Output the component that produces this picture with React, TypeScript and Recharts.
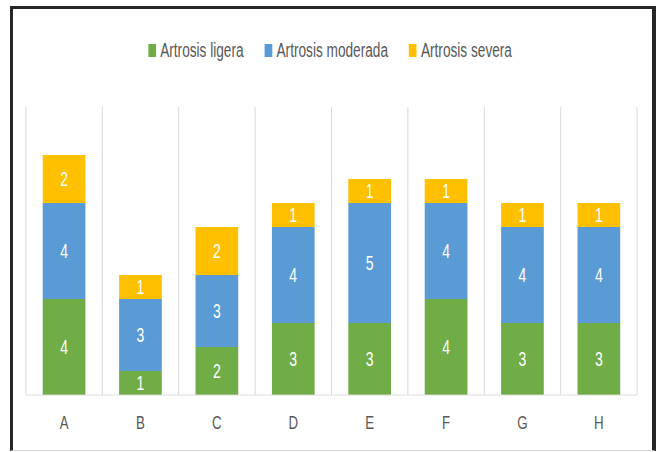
import { BarChart, Bar, XAxis, YAxis, CartesianGrid, Legend, LabelList } from 'recharts'

const CATEGORIAS = ['A', 'B', 'C', 'D', 'E', 'F', 'G', 'H']
const LIGERA = [4, 1, 2, 3, 3, 4, 3, 3]
const MODERADA = [4, 3, 3, 4, 5, 4, 4, 4]
const SEVERA = [2, 1, 2, 1, 1, 1, 1, 1]

const SERIES = [
  { key: 'ligera', nombre: 'Artrosis ligera', color: '#70ad47' },
  { key: 'moderada', nombre: 'Artrosis moderada', color: '#5b9bd5' },
  { key: 'severa', nombre: 'Artrosis severa', color: '#ffc000' },
]

// el original está comprimido en horizontal: se dibuja ancho y se encoge
const ESCALA_X = 0.7
const ANCHO = 656 / ESCALA_X
const ALTO = 452

const datos = CATEGORIAS.map((cat, i) => ({
  cat,
  ligera: LIGERA[i],
  moderada: MODERADA[i],
  severa: SEVERA[i],
}))

function Leyenda() {
  return (
    <div style={{ display: 'flex', justifyContent: 'center', gap: 30, paddingLeft: 6, fontSize: 19.5, color: '#595959' }}>
      {SERIES.map(s => (
        <span key={s.key} style={{ display: 'flex', alignItems: 'center' }}>
          <span style={{ width: 11, height: 13, background: s.color, marginRight: 6 }} />
          {s.nombre}
        </span>
      ))}
    </div>
  )
}

export default function App() {
  return (
    <div style={{ position: 'absolute', left: 0, top: 0, width: 656, height: ALTO, background: '#fff', overflow: 'hidden', fontFamily: "'Liberation Sans', Arial, sans-serif" }}>
      <div style={{ position: 'absolute', left: 0, top: 0, width: ANCHO, height: ALTO, transform: `scaleX(${ESCALA_X})`, transformOrigin: 'left top' }}>
        <BarChart width={ANCHO} height={ALTO} data={datos} margin={{ top: 107, right: 27, left: 37, bottom: 27 }} barCategoryGap="22%">
          <CartesianGrid
            horizontal={false}
            stroke="#d9d9d9"
            strokeWidth={1.4}
            verticalCoordinatesGenerator={({ offset }: any) =>
              CATEGORIAS.concat('').map((_, i) => offset.left + (i * offset.width) / CATEGORIAS.length)
            }
          />
          <XAxis
            dataKey="cat"
            axisLine={{ stroke: '#d9d9d9' }}
            tickLine={false}
            tick={{ fill: '#595959', fontSize: 19 }}
            tickMargin={15}
            height={30}
            interval={0}
          />
          <YAxis hide domain={[0, 12]} />
          <Legend
            layout="horizontal"
            verticalAlign="middle"
            align="center"
            content={() => <Leyenda />}
            wrapperStyle={{ top: 36, left: 0, width: ANCHO, lineHeight: '28px' }}
          />
          {SERIES.map(s => (
            <Bar key={s.key} dataKey={s.key} name={s.nombre} stackId="a" fill={s.color} isAnimationActive={false}>
              <LabelList dataKey={s.key} position="center" fill="#fff" fontSize={20} />
            </Bar>
          ))}
        </BarChart>
      </div>
      <div style={{ position: 'absolute', left: 10, top: 6, width: 646, height: 445, boxSizing: 'border-box', borderTop: '3px solid #262626', borderLeft: '3px solid #262626', borderRight: '4px solid #262626', borderBottom: '1px solid #d9d9d9' }} />
    </div>
  )
}
